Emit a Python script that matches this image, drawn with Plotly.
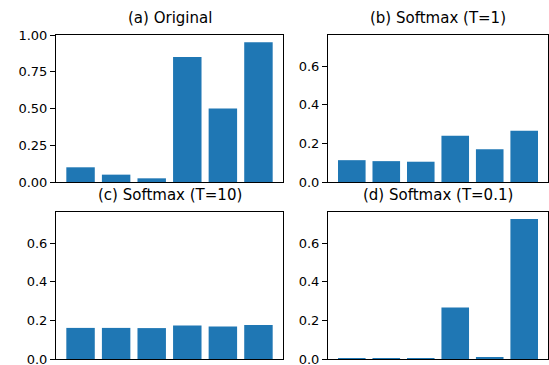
import plotly.graph_objects as go

categories = [0, 1, 2, 3, 4, 5]
original = [0.10, 0.05, 0.025, 0.85, 0.50, 0.95]
softmax_t1 = [0.113, 0.108, 0.105, 0.240, 0.169, 0.265]
softmax_t10 = [0.161, 0.161, 0.160, 0.174, 0.168, 0.176]
softmax_t01 = [0.0002, 0.0001, 0.0001, 0.267, 0.008, 0.725]
titles = ["(a) Original", "(b) Softmax (T=1)", "(c) Softmax (T=10)", "(d) Softmax (T=0.1)"]

W, H = 549, 365
def px_x(a, b):
    return [a / W, b / W]
def px_y(top, bottom):
    return [1 - bottom / H, 1 - top / H]

panels = [
    (original, px_x(56, 283), px_y(35, 182), [0, 1.0], [0, 0.25, 0.5, 0.75, 1.0], ".2f"),
    (softmax_t1, px_x(328, 548), px_y(35, 182), [0, 0.761], [0, 0.2, 0.4, 0.6], ".1f"),
    (softmax_t10, px_x(56, 283), px_y(212, 359), [0, 0.761], [0, 0.2, 0.4, 0.6], ".1f"),
    (softmax_t01, px_x(328, 548), px_y(212, 359), [0, 0.761], [0, 0.2, 0.4, 0.6], ".1f"),
]

fig = go.Figure()
layout = dict(
    width=W, height=H, autosize=False,
    margin=dict(l=0, r=0, t=0, b=0, pad=0, autoexpand=False),
    paper_bgcolor="white", plot_bgcolor="white",
    showlegend=False,
    font=dict(family="DejaVu Sans", size=13, color="black"),
    annotations=[],
)

for i, (vals, xd, yd, yr, tv, fmt) in enumerate(panels):
    n = "" if i == 0 else str(i + 1)
    fig.add_trace(go.Bar(x=categories, y=vals, width=0.8, marker=dict(color="#1f77b4", line=dict(width=0)),
                         xaxis="x" + n, yaxis="y" + n))
    layout["xaxis" + n] = dict(domain=xd, range=[-0.69, 5.69], showticklabels=False, ticks="",
                               showline=True, linecolor="black", linewidth=1, mirror=True,
                               showgrid=False, zeroline=False, anchor="y" + n, automargin=False)
    layout["yaxis" + n] = dict(domain=yd, range=yr, tickvals=tv, tickformat=fmt, ticks="outside",
                               ticklen=5, tickwidth=1, tickcolor="black",
                               showline=True, linecolor="black", linewidth=1, mirror=True,
                               showgrid=False, zeroline=False, anchor="x" + n, automargin=False,
                               ticklabeloverflow="allow",
                               tickfont=dict(size=13, color="black"))
    layout["annotations"].append(dict(text=titles[i], x=(xd[0] + xd[1]) / 2, y=yd[1],
                                      xref="paper", yref="paper", xanchor="center", yanchor="bottom",
                                      yshift=6, showarrow=False, font=dict(size=15, color="black")))

fig.update_layout(**layout)
fig.write_html("out.html", config={"displayModeBar": False},
               post_script="document.body.style.margin='0';document.body.style.overflow='hidden';")
